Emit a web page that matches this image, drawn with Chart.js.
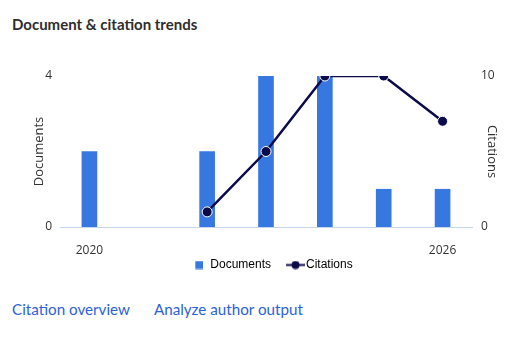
<!DOCTYPE html>
<html>
<head>
<meta charset="utf-8">
<script src="https://cdn.jsdelivr.net/npm/chart.js@4"></script>
<style>
  html, body { margin: 0; padding: 0; background: #fff; }
  body { width: 529px; height: 349px; position: relative; overflow: hidden; }
  #title { position: absolute; left: 12px; top: 15px; font: bold 15px Lato, sans-serif; color: #2e2e2e; }
  #wrap { position: absolute; left: 0; top: 40px; width: 529px; height: 241px; }
  #links { position: absolute; left: 12px; top: 300px; font: 15.2px Lato, sans-serif; color: #2b62d9; white-space: nowrap; }
  #links span { margin-right: 24px; }
</style>
</head>
<body>
<div id="title">Document &amp; citation trends</div>
<div id="wrap"><canvas id="c"></canvas></div>
<div id="links"><span>Citation overview</span><span>Analyze author output</span></div>
<script>
const years = ["2020", "2021", "2022", "2023", "2024", "2025", "2026"];
const documents = [2, 0, 2, 4, 4, 1, 1];
const citations = [null, null, 1, 5, 10, 10, 7];
const shownYearLabels = ["2020", "2026"];
const docTicks = [0, 4];
const citeTicks = [0, 10];

const barColor = "#3778e0";
const lineColor = "#0b0a4a";
const textColor = "#333333";

function docIcon() {
  const c = document.createElement("canvas");
  c.width = 24; c.height = 9;
  const g = c.getContext("2d");
  g.fillStyle = barColor;
  g.fillRect(16, 0.5, 8, 8);
  return c;
}
function citeIcon() {
  const c = document.createElement("canvas");
  c.width = 36; c.height = 9;
  const g = c.getContext("2d");
  g.strokeStyle = lineColor; g.lineWidth = 2;
  g.beginPath(); g.moveTo(17, 4.5); g.lineTo(36, 4.5); g.stroke();
  g.fillStyle = lineColor;
  g.beginPath(); g.arc(26.5, 4.5, 4, 0, Math.PI * 2); g.fill();
  return c;
}
const icons = [docIcon(), citeIcon()];

const axisFont = { family: "'Open Sans', sans-serif", size: 12 };
const titleFont = { family: "'Open Sans', sans-serif", size: 13 };

new Chart(document.getElementById("c"), {
  data: {
    labels: years,
    datasets: [
      {
        type: "line", label: "Citations", data: citations, yAxisID: "y2",
        borderColor: lineColor, backgroundColor: lineColor, borderWidth: 2.5,
        pointRadius: 5, pointBorderColor: "#ffffff", pointBorderWidth: 1,
        pointBackgroundColor: lineColor, tension: 0, order: 0
      },
      {
        type: "bar", label: "Documents", data: documents, yAxisID: "y",
        backgroundColor: (ctx) => (ctx.raw === 0 ? "rgba(0,0,0,0)" : barColor),
        barThickness: 15, order: 1
      }
    ]
  },
  options: {
    responsive: true, maintainAspectRatio: false, animation: false,
    layout: { padding: { top: 36, left: 31, right: 29, bottom: 0 } },
    plugins: {
      tooltip: { enabled: false },
      legend: {
        position: "bottom",
        labels: {
          usePointStyle: true, pointStyleWidth: 26, padding: 3,
          font: { family: "'Liberation Sans', Arial, sans-serif", size: 12 }, color: textColor,
          generateLabels: (chart) => {
            const order = [1, 0];
            return order.map((di, i) => ({
              text: chart.data.datasets[di].label,
              pointStyle: icons[i], datasetIndex: di,
              fillStyle: "transparent", strokeStyle: "transparent", lineWidth: 0, hidden: false
            }));
          }
        }
      }
    },
    scales: {
      x: {
        offset: true,
        grid: { display: false, drawTicks: false },
        border: { display: true, color: "#c5d6ef", width: 1 },
        afterFit: (s) => { s.height = 29; },
        ticks: {
          autoSkip: false, maxRotation: 0, padding: 16, color: textColor, font: axisFont,
          callback: function (v, i) { const l = years[i]; return shownYearLabels.includes(l) ? l : ""; }
        }
      },
      y: {
        position: "left", min: docTicks[0], max: docTicks[1],
        grid: { display: false, drawTicks: false },
        border: { display: false },
        afterFit: (s) => { s.width = 29; },
        afterBuildTicks: (s) => { s.ticks = docTicks.map(v => ({ value: v })); },
        ticks: { padding: 8, color: textColor, font: axisFont },
        title: { display: true, text: "Documents", color: textColor, padding: 0, font: titleFont }
      },
      y2: {
        position: "right", min: citeTicks[0], max: citeTicks[1],
        grid: { display: false, drawTicks: false },
        border: { display: false },
        afterFit: (s) => { s.width = 28; },
        afterBuildTicks: (s) => { s.ticks = citeTicks.map(v => ({ value: v })); },
        ticks: { padding: 9, color: textColor, font: axisFont },
        title: { display: true, text: "Citations", color: textColor, padding: 0, font: titleFont }
      }
    }
  }
});
</script>
</body>
</html>
